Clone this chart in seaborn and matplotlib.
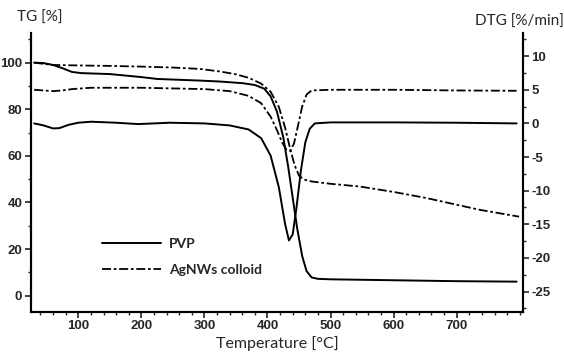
import matplotlib
matplotlib.use("Agg")
import matplotlib.pyplot as plt
import seaborn as sns
from matplotlib.ticker import MultipleLocator

# TG curves (left axis, %)
pvp_tg_t = [30, 45, 60, 75, 90, 105, 150, 200, 225, 293, 324, 360, 380, 395, 405, 415, 425,
            433, 440, 447, 455, 462, 470, 480, 500, 600, 700, 795]
pvp_tg = [100.0, 99.8, 99.0, 97.6, 96.0, 95.5, 95.1, 93.8, 93.0, 92.3, 91.9, 91.2, 90.4, 88.8,
          85.5, 79.0, 68.0, 55.0, 42.0, 29.0, 17.0, 10.5, 7.8, 7.2, 7.0, 6.6, 6.2, 6.0]

ag_tg_t = [30, 45, 60, 100, 150, 200, 250, 293, 325, 350, 370, 390, 405, 418, 428, 436, 443,
           450, 458, 470, 500, 547, 600, 650, 700, 737, 799]
ag_tg = [100.0, 99.5, 99.0, 98.8, 98.6, 98.3, 97.9, 97.3, 96.2, 95.0, 93.5, 91.0, 87.5, 81.0,
         72.0, 63.0, 56.0, 51.5, 49.8, 49.0, 48.0, 46.8, 44.5, 42.0, 39.0, 36.8, 33.9]

# DTG curves (right axis, %/min)
pvp_dtg_t = [30, 45, 60, 70, 85, 100, 120, 160, 195, 245, 300, 340, 370, 390, 405, 418, 428,
             434, 440, 446, 453, 460, 467, 475, 500, 600, 700, 795]
pvp_dtg = [0.0, -0.3, -0.75, -0.7, -0.2, 0.1, 0.25, 0.1, -0.1, 0.1, 0.0, -0.3, -0.9, -2.2,
           -4.8, -9.5, -15.0, -17.4, -16.5, -12.5, -7.0, -2.8, -0.8, 0.0, 0.15, 0.15, 0.1, 0.0]

ag_dtg_t = [30, 45, 60, 75, 90, 120, 200, 300, 340, 370, 390, 405, 415, 423, 430, 436, 442,
            448, 455, 462, 470, 500, 600, 700, 795]
ag_dtg = [5.0, 4.9, 4.8, 4.9, 5.1, 5.3, 5.3, 5.1, 4.8, 4.1, 3.0, 1.0, -1.0, -2.8, -3.9, -4.1,
          -3.0, -0.5, 2.5, 4.3, 4.9, 5.0, 5.0, 4.9, 4.85]

sns.set_style("white")
plt.rcParams['font.family'] = ['Liberation Sans', 'DejaVu Sans']
plt.rcParams['axes.unicode_minus'] = False

dashdot = (0, (5, 1.5, 1.5, 1.5))

fig = plt.figure(figsize=(5.64, 3.53), dpi=100)
ax = fig.add_axes([0.0544, 0.117, 0.8734, 0.7887])
ax2 = ax.twinx()

sns.lineplot(x=pvp_tg_t, y=pvp_tg, ax=ax, color='black', linewidth=1.4, label='PVP')
sns.lineplot(x=ag_tg_t, y=ag_tg, ax=ax, color='black', linewidth=1.3, linestyle=dashdot,
             label='AgNWs colloid')
sns.lineplot(x=pvp_dtg_t, y=pvp_dtg, ax=ax2, color='black', linewidth=1.4)
sns.lineplot(x=ag_dtg_t, y=ag_dtg, ax=ax2, color='black', linewidth=1.3, linestyle=dashdot)

ax.set_xlim(24.5, 805.6)
ax.set_ylim(-6.9, 112.6)
ax2.set_ylim(-28.0, 13.4)

ax.xaxis.set_major_locator(MultipleLocator(100))
ax.xaxis.set_minor_locator(MultipleLocator(20))
ax.yaxis.set_major_locator(MultipleLocator(20))
ax.yaxis.set_minor_locator(MultipleLocator(10))
ax2.yaxis.set_major_locator(MultipleLocator(5))
ax2.yaxis.set_minor_locator(MultipleLocator(2.5))

for a in (ax, ax2):
    a.tick_params(which='major', direction='out', length=4, width=1.2, labelsize=9.5, pad=2)
    a.tick_params(which='minor', direction='out', length=2.5, width=1.0)
    for s in a.spines.values():
        s.set_linewidth(1.5)
        s.set_color('black')
    a.spines['top'].set_visible(False)
ax.tick_params(axis='x', which='both', bottom=True)
ax.tick_params(axis='y', which='both', left=True)
ax2.tick_params(axis='y', which='both', right=True)
ax.set_xticks([100, 200, 300, 400, 500, 600, 700])
for a in (ax, ax2):
    for lab in a.get_xticklabels() + a.get_yticklabels():
        lab.set_fontweight('bold')

ax.set_xlabel('Temperature [°C]', fontsize=11.5, family=['Lato', 'DejaVu Sans'], labelpad=3)
ax.set_ylabel('')
ax2.set_ylabel('')

fig.text(17 / 564, 1 - 18 / 353, 'TG [%]', fontsize=11, family=['Lato', 'DejaVu Sans'],
         va='center', ha='left')
fig.text(475 / 564, 1 - 22 / 353, 'DTG [%/min]', fontsize=11, family=['Lato', 'DejaVu Sans'],
         va='center', ha='left')

leg = ax.legend(loc='upper left', bbox_to_anchor=(0.12, 0.31), frameon=False,
                handlelength=4.2, labelspacing=1.0, handletextpad=0.6,
                prop={'family': ['Lato', 'DejaVu Sans'], 'weight': 'bold', 'size': 10})

fig.savefig('out.png', dpi=100)
